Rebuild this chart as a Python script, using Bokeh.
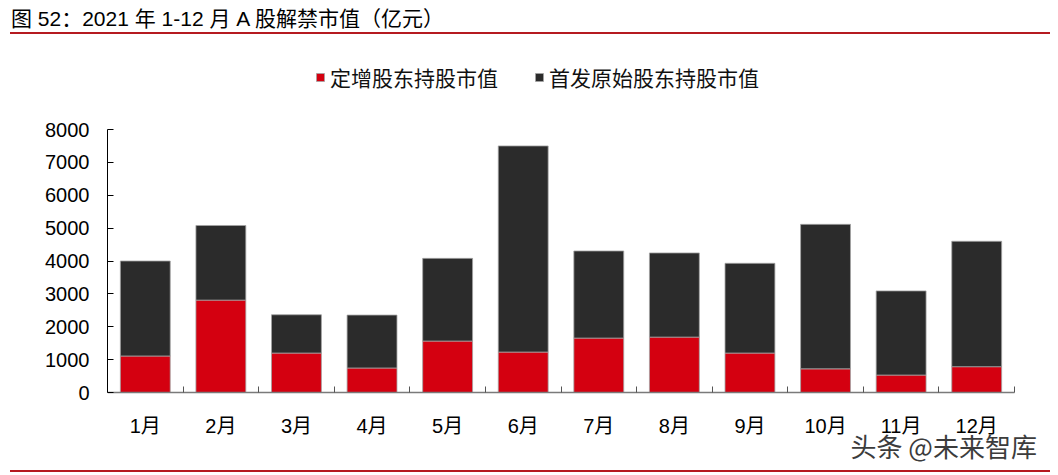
from bokeh.plotting import figure
from bokeh.models import (Range1d, FixedTicker, Label, Div, ColumnDataSource)
from bokeh.layouts import column
from bokeh.embed import file_html
from bokeh.resources import INLINE

# Monthly unlocked market value of A-shares in 2021 (100 million CNY)
months = ["1月", "2月", "3月", "4月", "5月", "6月", "7月", "8月", "9月", "10月", "11月", "12月"]
placement_holders = [1110, 2810, 1200, 745, 1565, 1230, 1655, 1685, 1200, 720, 530, 785]
ipo_holders = [2890, 2270, 1165, 1610, 2515, 6270, 2650, 2560, 2730, 4395, 2560, 3815]
series_names = ["定增股东持股市值", "首发原始股东持股市值"]
y_ticks = [0, 1000, 2000, 3000, 4000, 5000, 6000, 7000, 8000]

RED = "#D40010"
DARK = "#2B2B2B"
RULE = "#B51A20"
LATIN_CJK = "Liberation Sans, Noto Sans CJK SC"

# plot geometry (pixels): the value axis spans 263 px, each month 75.58 px
PX_PER_UNIT_Y = 263 / 8000
PX_PER_MONTH = 907 / 12
FIG_W, FIG_H = 1058, 430
LEFT = 107
TOP_PAD, BOTTOM_PAD, RIGHT_PAD = 93, 74, 44

centers = [i + 0.5 for i in range(len(months))]
source = ColumnDataSource(dict(x=centers, red=placement_holders, dark=ipo_holders))

title_div = Div(
    text=(
        '<div style="position:relative;width:1058px;height:36px;">'
        '<span style="position:absolute;left:11px;top:4px;font-size:21px;'
        "font-family:'Liberation Sans','Noto Sans CJK SC';color:#000;white-space:nowrap;\">"
        "图 52：2021 年 1-12 月 A 股解禁市值（亿元）</span>"
        f'<div style="position:absolute;left:10px;top:32px;width:1040px;height:2px;background:{RULE};"></div>'
        "</div>"
    ),
    width=1058, height=36, margin=0,
)

# the plot frame fills the figure (apart from the y-axis panel), so the legend
# and the source tag can sit inside it; the axes are bounded to the data span
p = figure(
    width=FIG_W, height=FIG_H,
    x_range=Range1d(0, 12 + RIGHT_PAD / PX_PER_MONTH),
    y_range=Range1d(-BOTTOM_PAD / PX_PER_UNIT_Y, 8000 + TOP_PAD / PX_PER_UNIT_Y),
    output_backend="svg", toolbar_location=None,
    min_border_left=LEFT, min_border_right=0,
    min_border_top=0, min_border_bottom=0,
    outline_line_color=None,
)
p.grid.grid_line_color = None

p.vbar_stack(
    ["red", "dark"], x="x", width=0.66, source=source,
    color=[RED, DARK], line_color="#a3a3a3", line_width=0.8,
    legend_label=series_names,
)

# y axis: ticks pointing inward, black line
p.yaxis.bounds = (0, 8000)
p.yaxis.ticker = FixedTicker(ticks=y_ticks)
p.yaxis.axis_line_color = "black"
p.yaxis.major_tick_line_color = "black"
p.yaxis.major_tick_in = 6
p.yaxis.major_tick_out = 0
p.yaxis.minor_tick_line_color = None
p.yaxis.major_label_standoff = 18
p.yaxis.major_label_text_font = LATIN_CJK
p.yaxis.major_label_text_font_size = "20px"
p.yaxis.major_label_text_color = "black"

# x axis at value 0: labels at month centres, small ticks at month boundaries
p.xaxis.fixed_location = 0
p.xaxis.bounds = (0, 12)
p.xaxis.ticker = FixedTicker(ticks=centers, minor_ticks=list(range(0, 13)))
p.xaxis.major_label_overrides = {c: m for c, m in zip(centers, months)}
p.xaxis.major_tick_line_color = None
p.xaxis.minor_tick_line_color = "#555555"
p.xaxis.minor_tick_in = 6
p.xaxis.minor_tick_out = 0
p.xaxis.axis_line_color = "#7a7a7a"
p.xaxis.axis_line_width = 1.5
p.xaxis.major_label_standoff = 16
p.xaxis.major_label_text_font = LATIN_CJK
p.xaxis.major_label_text_font_size = "20px"
p.xaxis.major_label_text_color = "black"

lg = p.legend[0]
lg.orientation = "horizontal"
lg.location = (208, FIG_H - 56)
lg.padding = 0
lg.margin = 0
lg.spacing = 36
lg.glyph_width = 10
lg.glyph_height = 10
lg.label_standoff = 5
lg.label_text_font = "Noto Sans CJK SC"
lg.label_text_font_size = "21px"
lg.label_text_color = "#111111"
lg.border_line_color = None
lg.background_fill_alpha = 0

p.add_layout(Label(
    x=743, y=3, x_units="screen", y_units="screen",
    text="头条 @未来智库", text_font="Noto Sans CJK SC", text_font_size="26px",
    text_color="#3c3c3c", text_baseline="bottom",
))

bottom_div = Div(
    text=(
        '<div style="position:relative;width:1058px;height:9px;">'
        f'<div style="position:absolute;left:10px;top:1px;width:1040px;height:2px;background:{RULE};"></div>'
        "</div>"
    ),
    width=1058, height=9, margin=0,
)

layout = column(title_div, p, bottom_div, spacing=0)
open("out.html", "w").write(file_html(layout, INLINE))
